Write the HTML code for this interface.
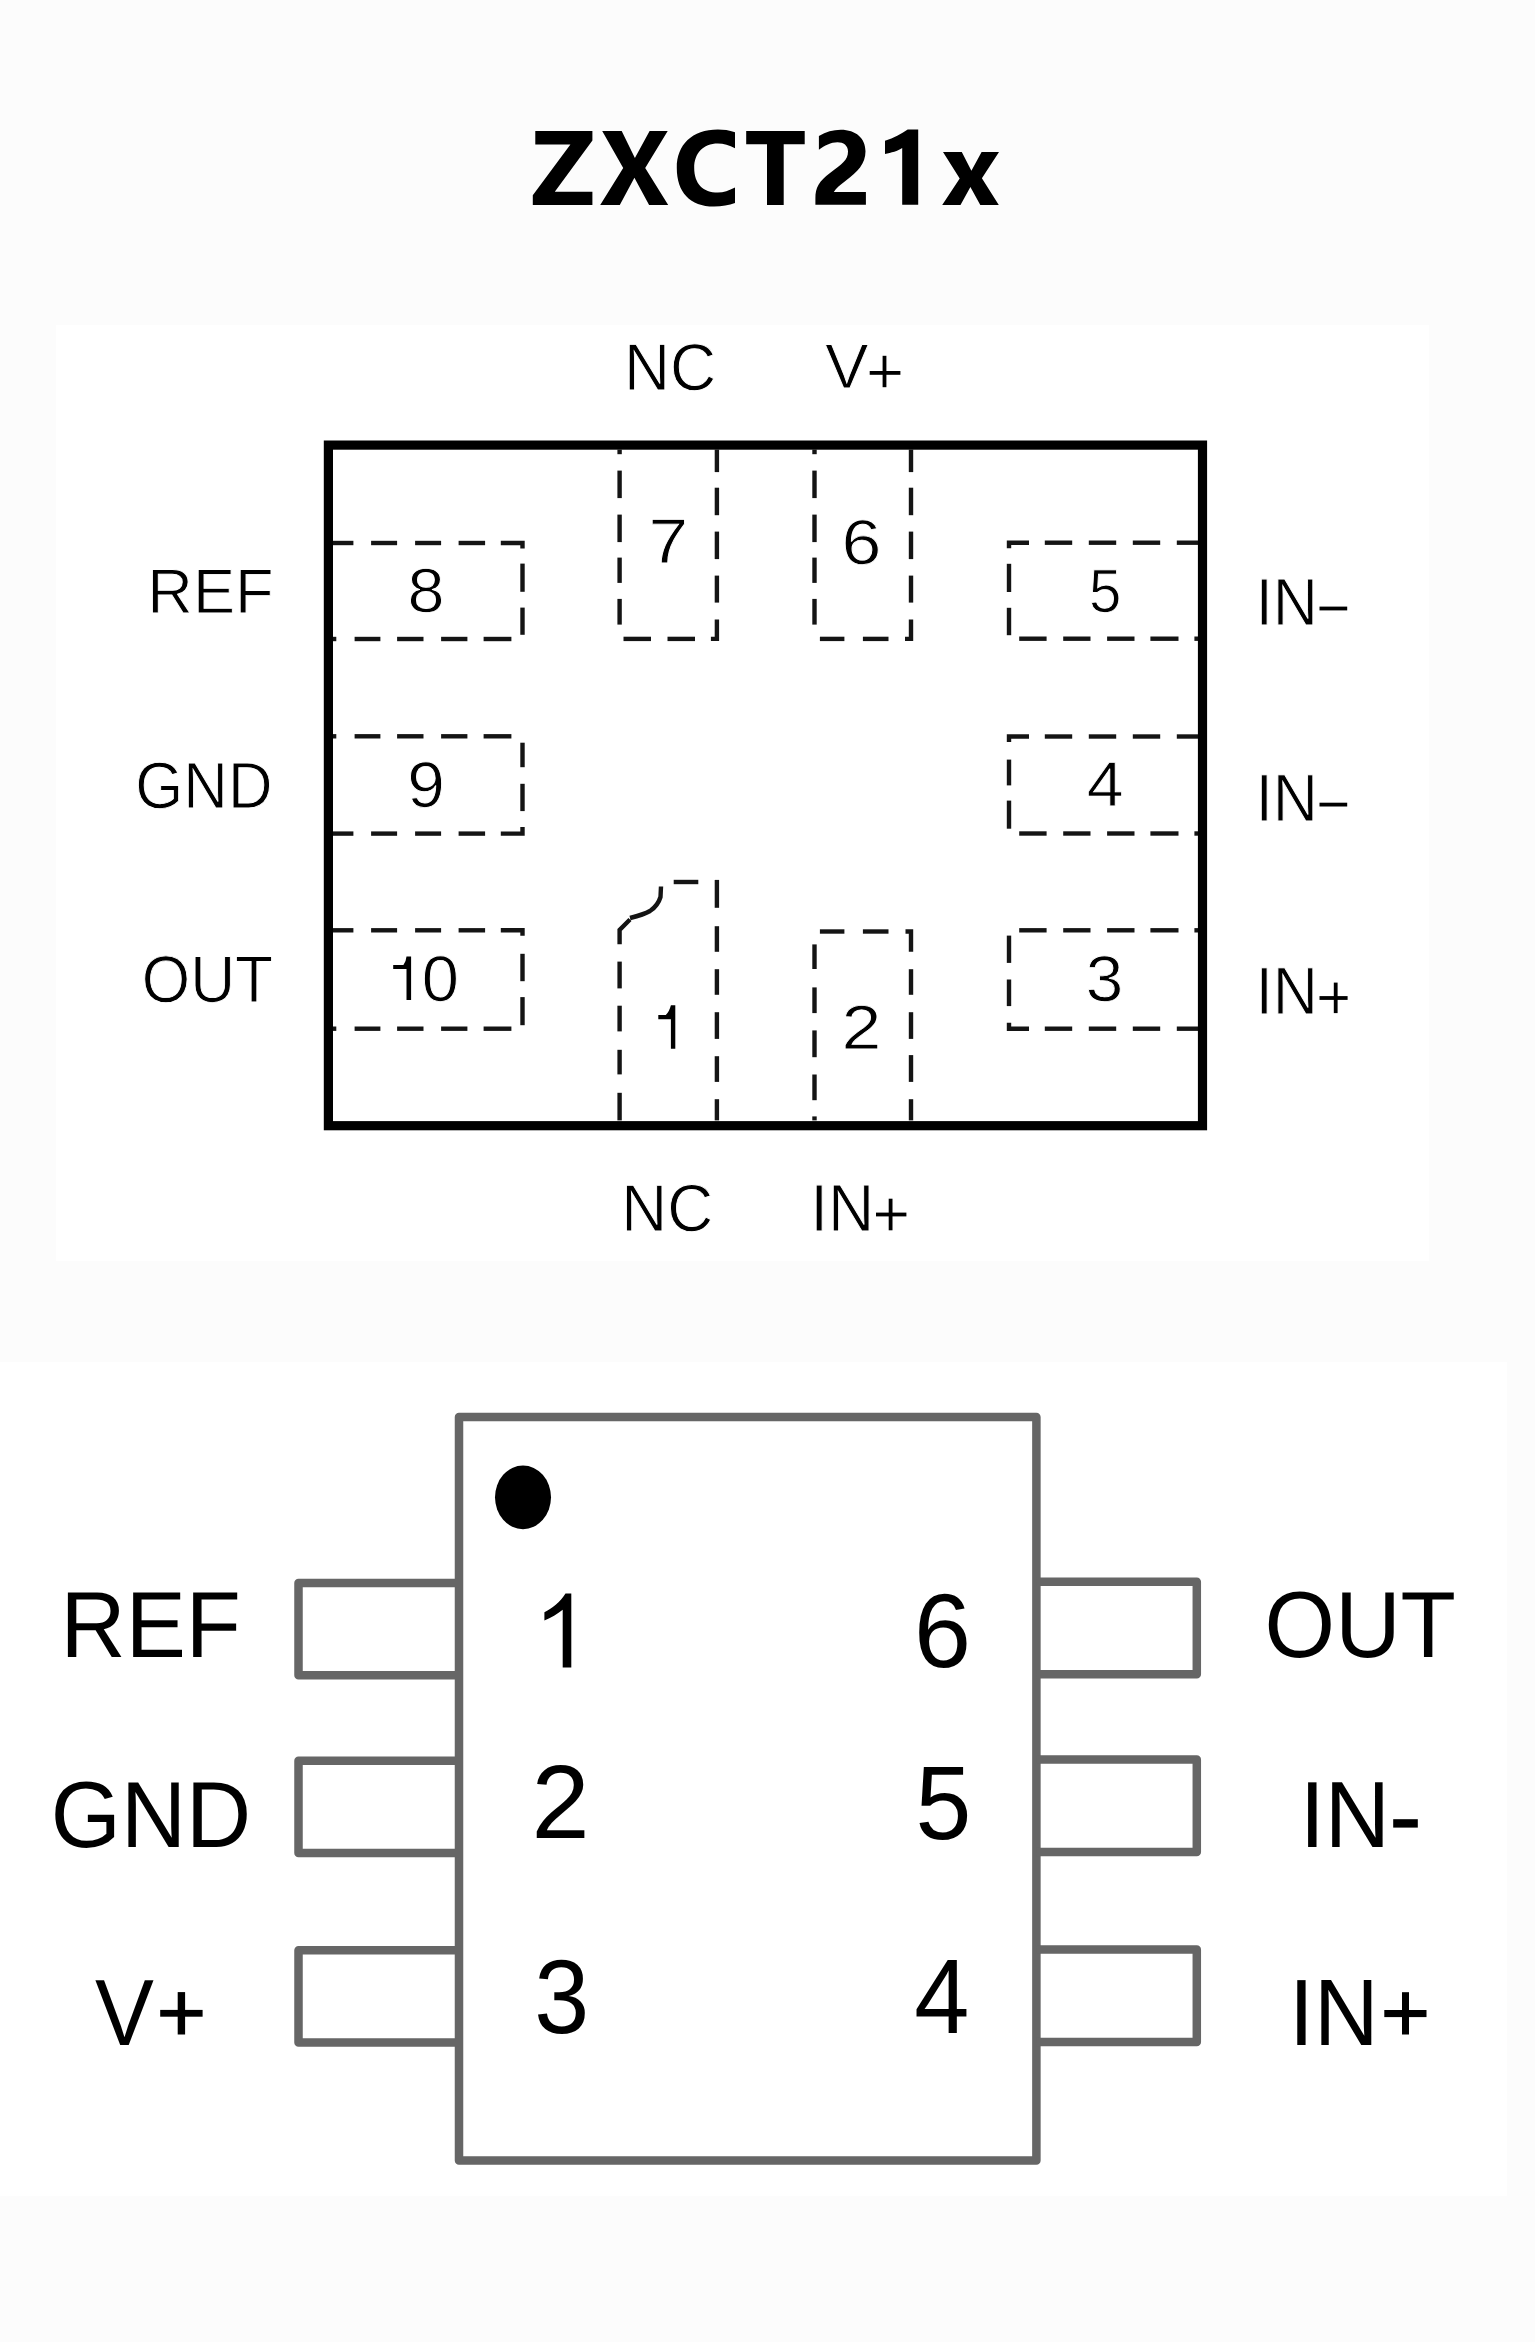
<!DOCTYPE html>
<html><head><meta charset="utf-8"><title>ZXCT21x pinout</title>
<style>
html,body{margin:0;padding:0;background:#fcfcfc;width:1535px;height:2342px;overflow:hidden}
svg{display:block}
text{font-family:"Liberation Sans",sans-serif;font-kerning:none;text-rendering:geometricPrecision}
</style></head><body>
<svg width="1535" height="2342" viewBox="0 0 1535 2342">
<rect x="0" y="0" width="1535" height="2342" fill="#fcfcfc"/>
<rect x="56" y="325" width="1373" height="936" fill="#fff"/>
<rect x="0" y="1362" width="1507" height="834" fill="#fff"/>
<g fill="#000"><path d="M535.3 130.9 H592.4 V140.5 L554.8 191.8 H592.4 V205 H532.8 V195.2 L570.4 144.4 H535.3 Z"/><path d="M602.2 130.9 H621.7 L634.9 158.1 L649.6 130.9 H667.7 L645.2 167.9 L668.2 205 H649.1 L634.4 177.7 L619.8 205 H600.2 L623.2 167.9 Z"/><path d="M735 132.2 C729 130.3 723.5 129.6 717.9 129.6 C692 129.6 676.8 145 676.8 167.9 C676.8 192 690 206.5 714 206.5 C722 206.5 729 205.5 735 203.1 V187.4 C729 190.5 723.5 192.5 717.9 192.5 C703 192.5 694.2 183.5 694.2 167.9 C694.2 153.5 703 143.6 717.9 143.6 C723.5 143.6 729.5 145.5 735 148.3 Z"/><path d="M746.2 130.9 H804.7 V144.2 H783.7 V205 H767 V144.2 H746.2 Z"/><path d="M818.9 136 C826 132 833 129.8 840.8 129.8 C856 129.8 865.5 138.5 865.5 151.3 C865.5 164 857.5 172 846 180.5 C840 185 836 188.5 833.8 191.9 H865.9 V204.8 H815.4 V198.2 C815.4 188 819 181 830 173 C842 164 848 160 848 151.5 C848 145.5 843.5 142.3 837.5 142.3 C831 142.3 824.5 145.5 818.9 149.7 Z"/><path d="M907.7 129.5 H918.2 V204.8 H902.2 V148.1 C898 151 891 153 885 154 V140.7 C894 138 901 134 907.7 129.5 Z"/><path d="M943 152 H961.8 L971.4 170.7 L981.6 152 H999 L981.9 178.3 L998.8 204.9 H980.3 L970.4 186.9 L960.5 204.9 H942.2 L959.7 178.6 Z"/></g>
<g><line x1="331.60" y1="543.00" x2="353.40" y2="543.00" stroke="#141414" stroke-width="4.40"/><line x1="371.10" y1="543.00" x2="397.10" y2="543.00" stroke="#141414" stroke-width="4.40"/><line x1="415.10" y1="543.00" x2="441.10" y2="543.00" stroke="#141414" stroke-width="4.40"/><line x1="458.60" y1="543.00" x2="485.10" y2="543.00" stroke="#141414" stroke-width="4.40"/><line x1="331.60" y1="639.00" x2="336.30" y2="639.00" stroke="#141414" stroke-width="4.40"/><line x1="354.60" y1="639.00" x2="380.40" y2="639.00" stroke="#141414" stroke-width="4.40"/><line x1="397.10" y1="639.00" x2="423.50" y2="639.00" stroke="#141414" stroke-width="4.40"/><line x1="441.10" y1="639.00" x2="467.40" y2="639.00" stroke="#141414" stroke-width="4.40"/><line x1="483.60" y1="639.00" x2="511.40" y2="639.00" stroke="#141414" stroke-width="4.40"/><line x1="522.50" y1="563.60" x2="522.50" y2="591.80" stroke="#141414" stroke-width="4.40"/><line x1="522.50" y1="607.60" x2="522.50" y2="634.80" stroke="#141414" stroke-width="4.40"/><path d="M500.80 543.00 H522.50 V548.50" fill="none" stroke="#141414" stroke-width="4.40" stroke-linejoin="miter"/><line x1="331.60" y1="736.30" x2="336.30" y2="736.30" stroke="#141414" stroke-width="4.40"/><line x1="354.60" y1="736.30" x2="380.40" y2="736.30" stroke="#141414" stroke-width="4.40"/><line x1="397.10" y1="736.30" x2="423.50" y2="736.30" stroke="#141414" stroke-width="4.40"/><line x1="441.10" y1="736.30" x2="467.40" y2="736.30" stroke="#141414" stroke-width="4.40"/><line x1="483.60" y1="736.30" x2="511.40" y2="736.30" stroke="#141414" stroke-width="4.40"/><line x1="331.60" y1="833.60" x2="353.40" y2="833.60" stroke="#141414" stroke-width="4.40"/><line x1="371.10" y1="833.60" x2="397.10" y2="833.60" stroke="#141414" stroke-width="4.40"/><line x1="415.10" y1="833.60" x2="441.10" y2="833.60" stroke="#141414" stroke-width="4.40"/><line x1="458.60" y1="833.60" x2="485.10" y2="833.60" stroke="#141414" stroke-width="4.40"/><line x1="522.50" y1="742.70" x2="522.50" y2="767.20" stroke="#141414" stroke-width="4.40"/><line x1="522.50" y1="783.80" x2="522.50" y2="811.10" stroke="#141414" stroke-width="4.40"/><path d="M500.80 833.60 H522.50 V827.10" fill="none" stroke="#141414" stroke-width="4.40" stroke-linejoin="miter"/><line x1="331.60" y1="930.30" x2="353.40" y2="930.30" stroke="#141414" stroke-width="4.40"/><line x1="371.10" y1="930.30" x2="397.10" y2="930.30" stroke="#141414" stroke-width="4.40"/><line x1="415.10" y1="930.30" x2="441.10" y2="930.30" stroke="#141414" stroke-width="4.40"/><line x1="458.60" y1="930.30" x2="485.10" y2="930.30" stroke="#141414" stroke-width="4.40"/><line x1="331.60" y1="1028.70" x2="336.30" y2="1028.70" stroke="#141414" stroke-width="4.40"/><line x1="354.60" y1="1028.70" x2="380.40" y2="1028.70" stroke="#141414" stroke-width="4.40"/><line x1="397.10" y1="1028.70" x2="423.50" y2="1028.70" stroke="#141414" stroke-width="4.40"/><line x1="441.10" y1="1028.70" x2="467.40" y2="1028.70" stroke="#141414" stroke-width="4.40"/><line x1="483.60" y1="1028.70" x2="511.40" y2="1028.70" stroke="#141414" stroke-width="4.40"/><line x1="522.50" y1="953.80" x2="522.50" y2="981.20" stroke="#141414" stroke-width="4.40"/><line x1="522.50" y1="997.10" x2="522.50" y2="1025.20" stroke="#141414" stroke-width="4.40"/><path d="M500.80 930.30 H522.50 V935.80" fill="none" stroke="#141414" stroke-width="4.40" stroke-linejoin="miter"/><line x1="1044.80" y1="542.70" x2="1072.20" y2="542.70" stroke="#141414" stroke-width="4.40"/><line x1="1088.80" y1="542.70" x2="1116.20" y2="542.70" stroke="#141414" stroke-width="4.40"/><line x1="1132.80" y1="542.70" x2="1160.20" y2="542.70" stroke="#141414" stroke-width="4.40"/><line x1="1176.80" y1="542.70" x2="1198.40" y2="542.70" stroke="#141414" stroke-width="4.40"/><line x1="1019.20" y1="638.70" x2="1046.60" y2="638.70" stroke="#141414" stroke-width="4.40"/><line x1="1063.20" y1="638.70" x2="1090.50" y2="638.70" stroke="#141414" stroke-width="4.40"/><line x1="1107.10" y1="638.70" x2="1134.50" y2="638.70" stroke="#141414" stroke-width="4.40"/><line x1="1150.40" y1="638.70" x2="1178.50" y2="638.70" stroke="#141414" stroke-width="4.40"/><line x1="1194.40" y1="638.70" x2="1198.40" y2="638.70" stroke="#141414" stroke-width="4.40"/><line x1="1009.00" y1="563.80" x2="1009.00" y2="592.00" stroke="#141414" stroke-width="4.40"/><line x1="1009.00" y1="607.80" x2="1009.00" y2="635.20" stroke="#141414" stroke-width="4.40"/><path d="M1029.00 542.70 H1009.00 V548.20" fill="none" stroke="#141414" stroke-width="4.40" stroke-linejoin="miter"/><line x1="1044.80" y1="736.50" x2="1072.20" y2="736.50" stroke="#141414" stroke-width="4.40"/><line x1="1088.80" y1="736.50" x2="1116.20" y2="736.50" stroke="#141414" stroke-width="4.40"/><line x1="1132.80" y1="736.50" x2="1160.20" y2="736.50" stroke="#141414" stroke-width="4.40"/><line x1="1176.80" y1="736.50" x2="1198.40" y2="736.50" stroke="#141414" stroke-width="4.40"/><line x1="1019.20" y1="833.50" x2="1046.60" y2="833.50" stroke="#141414" stroke-width="4.40"/><line x1="1063.20" y1="833.50" x2="1090.50" y2="833.50" stroke="#141414" stroke-width="4.40"/><line x1="1107.10" y1="833.50" x2="1134.50" y2="833.50" stroke="#141414" stroke-width="4.40"/><line x1="1150.40" y1="833.50" x2="1178.50" y2="833.50" stroke="#141414" stroke-width="4.40"/><line x1="1194.40" y1="833.50" x2="1198.40" y2="833.50" stroke="#141414" stroke-width="4.40"/><line x1="1009.00" y1="759.60" x2="1009.00" y2="785.40" stroke="#141414" stroke-width="4.40"/><line x1="1009.00" y1="800.60" x2="1009.00" y2="828.70" stroke="#141414" stroke-width="4.40"/><path d="M1029.00 736.50 H1009.00 V742.00" fill="none" stroke="#141414" stroke-width="4.40" stroke-linejoin="miter"/><line x1="1019.20" y1="930.30" x2="1046.60" y2="930.30" stroke="#141414" stroke-width="4.40"/><line x1="1063.20" y1="930.30" x2="1090.50" y2="930.30" stroke="#141414" stroke-width="4.40"/><line x1="1107.10" y1="930.30" x2="1134.50" y2="930.30" stroke="#141414" stroke-width="4.40"/><line x1="1150.40" y1="930.30" x2="1178.50" y2="930.30" stroke="#141414" stroke-width="4.40"/><line x1="1194.40" y1="930.30" x2="1198.40" y2="930.30" stroke="#141414" stroke-width="4.40"/><line x1="1044.80" y1="1028.70" x2="1072.20" y2="1028.70" stroke="#141414" stroke-width="4.40"/><line x1="1088.80" y1="1028.70" x2="1116.20" y2="1028.70" stroke="#141414" stroke-width="4.40"/><line x1="1132.80" y1="1028.70" x2="1160.20" y2="1028.70" stroke="#141414" stroke-width="4.40"/><line x1="1176.80" y1="1028.70" x2="1198.40" y2="1028.70" stroke="#141414" stroke-width="4.40"/><line x1="1009.00" y1="935.60" x2="1009.00" y2="962.90" stroke="#141414" stroke-width="4.40"/><line x1="1009.00" y1="979.50" x2="1009.00" y2="1006.10" stroke="#141414" stroke-width="4.40"/><path d="M1029.00 1028.70 H1009.00 V1022.70" fill="none" stroke="#141414" stroke-width="4.40" stroke-linejoin="miter"/><line x1="619.60" y1="449.60" x2="619.60" y2="454.20" stroke="#141414" stroke-width="4.40"/><line x1="619.60" y1="470.60" x2="619.60" y2="498.10" stroke="#141414" stroke-width="4.40"/><line x1="619.60" y1="514.60" x2="619.60" y2="542.10" stroke="#141414" stroke-width="4.40"/><line x1="619.60" y1="557.60" x2="619.60" y2="582.90" stroke="#141414" stroke-width="4.40"/><line x1="619.60" y1="598.90" x2="619.60" y2="624.60" stroke="#141414" stroke-width="4.40"/><line x1="716.90" y1="449.60" x2="716.90" y2="472.10" stroke="#141414" stroke-width="4.40"/><line x1="716.90" y1="487.70" x2="716.90" y2="515.20" stroke="#141414" stroke-width="4.40"/><line x1="716.90" y1="531.60" x2="716.90" y2="559.10" stroke="#141414" stroke-width="4.40"/><line x1="716.90" y1="575.60" x2="716.90" y2="602.60" stroke="#141414" stroke-width="4.40"/><line x1="623.50" y1="638.90" x2="651.00" y2="638.90" stroke="#141414" stroke-width="4.40"/><line x1="667.50" y1="638.90" x2="695.00" y2="638.90" stroke="#141414" stroke-width="4.40"/><path d="M710.90 638.90 H716.90 V619.50" fill="none" stroke="#141414" stroke-width="4.40" stroke-linejoin="miter"/><line x1="814.50" y1="449.60" x2="814.50" y2="454.20" stroke="#141414" stroke-width="4.40"/><line x1="814.50" y1="470.60" x2="814.50" y2="498.10" stroke="#141414" stroke-width="4.40"/><line x1="814.50" y1="514.60" x2="814.50" y2="542.10" stroke="#141414" stroke-width="4.40"/><line x1="814.50" y1="557.60" x2="814.50" y2="582.90" stroke="#141414" stroke-width="4.40"/><line x1="814.50" y1="598.90" x2="814.50" y2="624.60" stroke="#141414" stroke-width="4.40"/><line x1="911.00" y1="449.60" x2="911.00" y2="472.10" stroke="#141414" stroke-width="4.40"/><line x1="911.00" y1="487.70" x2="911.00" y2="515.20" stroke="#141414" stroke-width="4.40"/><line x1="911.00" y1="531.60" x2="911.00" y2="559.10" stroke="#141414" stroke-width="4.40"/><line x1="911.00" y1="575.60" x2="911.00" y2="602.60" stroke="#141414" stroke-width="4.40"/><line x1="819.90" y1="638.90" x2="844.40" y2="638.90" stroke="#141414" stroke-width="4.40"/><line x1="862.90" y1="638.90" x2="888.50" y2="638.90" stroke="#141414" stroke-width="4.40"/><path d="M905.00 638.90 H911.00 V619.50" fill="none" stroke="#141414" stroke-width="4.40" stroke-linejoin="miter"/><line x1="619.60" y1="961.60" x2="619.60" y2="988.40" stroke="#141414" stroke-width="4.40"/><line x1="619.60" y1="1005.70" x2="619.60" y2="1031.40" stroke="#141414" stroke-width="4.40"/><line x1="619.60" y1="1049.80" x2="619.60" y2="1074.40" stroke="#141414" stroke-width="4.40"/><line x1="619.60" y1="1092.80" x2="619.60" y2="1120.40" stroke="#141414" stroke-width="4.40"/><line x1="716.90" y1="879.90" x2="716.90" y2="907.80" stroke="#141414" stroke-width="4.40"/><line x1="716.90" y1="926.20" x2="716.90" y2="951.80" stroke="#141414" stroke-width="4.40"/><line x1="716.90" y1="969.20" x2="716.90" y2="994.80" stroke="#141414" stroke-width="4.40"/><line x1="716.90" y1="1012.20" x2="716.90" y2="1038.90" stroke="#141414" stroke-width="4.40"/><line x1="716.90" y1="1056.20" x2="716.90" y2="1081.90" stroke="#141414" stroke-width="4.40"/><line x1="716.90" y1="1099.20" x2="716.90" y2="1120.40" stroke="#141414" stroke-width="4.40"/><line x1="673.70" y1="882.00" x2="698.30" y2="882.00" stroke="#141414" stroke-width="4.40"/><path d="M619.6 944.3 V930 L627 922.5 L630 919.5" fill="none" stroke="#141414" stroke-width="4.40" stroke-linejoin="miter"/><path d="M630 918 C636 916.5 644 914.5 650 911 C656 907 659 902 660.5 897 L661 886.5" fill="none" stroke="#141414" stroke-width="4.40" stroke-linejoin="miter"/><line x1="814.50" y1="944.40" x2="814.50" y2="969.00" stroke="#141414" stroke-width="4.40"/><line x1="814.50" y1="987.40" x2="814.50" y2="1013.10" stroke="#141414" stroke-width="4.40"/><line x1="814.50" y1="1030.40" x2="814.50" y2="1057.20" stroke="#141414" stroke-width="4.40"/><line x1="814.50" y1="1074.50" x2="814.50" y2="1100.20" stroke="#141414" stroke-width="4.40"/><line x1="814.50" y1="1116.40" x2="814.50" y2="1120.40" stroke="#141414" stroke-width="4.40"/><line x1="911.00" y1="969.20" x2="911.00" y2="994.80" stroke="#141414" stroke-width="4.40"/><line x1="911.00" y1="1012.20" x2="911.00" y2="1038.90" stroke="#141414" stroke-width="4.40"/><line x1="911.00" y1="1055.10" x2="911.00" y2="1081.90" stroke="#141414" stroke-width="4.40"/><line x1="911.00" y1="1099.20" x2="911.00" y2="1120.40" stroke="#141414" stroke-width="4.40"/><line x1="819.90" y1="931.50" x2="844.40" y2="931.50" stroke="#141414" stroke-width="4.40"/><line x1="862.90" y1="931.50" x2="888.50" y2="931.50" stroke="#141414" stroke-width="4.40"/><path d="M905.50 931.50 H911.00 V951.80" fill="none" stroke="#141414" stroke-width="4.40" stroke-linejoin="miter"/></g>
<rect x="328.4" y="445.1" width="874.1" height="680.6" fill="none" stroke="#000" stroke-width="9.2"/>
<g font-family="Liberation Sans" font-size="100"><text transform="translate(624.02 390.45) scale(0.6374 0.6628)" font-weight="normal" fill="#000" stroke="#fff" stroke-width="1.385">NC</text><text transform="translate(824.96 387.65) scale(0.6533 0.6323)" font-weight="normal" fill="#000" stroke="#fff" stroke-width="1.400">V</text><text transform="translate(147.37 612.95) scale(0.6310 0.6323)" font-weight="normal" fill="#000" stroke="#fff" stroke-width="1.425">REF</text><text transform="translate(135.35 808.25) scale(0.6172 0.6555)" font-weight="normal" fill="#000" stroke="#fff" stroke-width="1.415">GND</text><text transform="translate(141.80 1001.65) scale(0.6219 0.6613)" font-weight="normal" fill="#000" stroke="#fff" stroke-width="1.403">OUT</text><text transform="translate(1255.38 624.75) scale(0.6258 0.6701)" font-weight="normal" fill="#000" stroke="#fff" stroke-width="1.390">IN</text><text transform="translate(1255.38 820.55) scale(0.6258 0.6715)" font-weight="normal" fill="#000" stroke="#fff" stroke-width="1.388">IN</text><text transform="translate(1255.38 1013.55) scale(0.6258 0.6715)" font-weight="normal" fill="#000" stroke="#fff" stroke-width="1.388">IN</text><text transform="translate(621.23 1230.75) scale(0.6358 0.6657)" font-weight="normal" fill="#000" stroke="#fff" stroke-width="1.383">NC</text><text transform="translate(810.14 1230.75) scale(0.6403 0.6701)" font-weight="normal" fill="#000" stroke="#fff" stroke-width="1.374">IN</text><text transform="translate(407.56 612.44) scale(0.6649 0.6243)" font-weight="normal" fill="#000" stroke="#fff" stroke-width="1.397">8</text><text transform="translate(407.18 807.32) scale(0.6755 0.6483)" font-weight="normal" fill="#000" stroke="#fff" stroke-width="1.360">9</text><text transform="translate(421.84 1000.62) scale(0.6694 0.6483)" font-weight="normal" fill="#000" stroke="#fff" stroke-width="1.366">0</text><text transform="translate(648.60 562.65) scale(0.7127 0.6337)" font-weight="normal" fill="#000" stroke="#fff" stroke-width="1.339">7</text><text transform="translate(841.51 563.93) scale(0.7173 0.6342)" font-weight="normal" fill="#000" stroke="#fff" stroke-width="1.334">6</text><text transform="translate(1088.92 611.55) scale(0.5821 0.6148)" font-weight="normal" fill="#000" stroke="#fff" stroke-width="1.504">5</text><text transform="translate(1086.83 805.75) scale(0.6628 0.6352)" font-weight="normal" fill="#000" stroke="#fff" stroke-width="1.387">4</text><text transform="translate(1085.78 1000.82) scale(0.6749 0.6483)" font-weight="normal" fill="#000" stroke="#fff" stroke-width="1.361">3</text><text transform="translate(841.54 1048.75) scale(0.7178 0.6259)" font-weight="normal" fill="#000" stroke="#fff" stroke-width="1.343">2</text></g>
<g><rect x="869.70" y="371.00" width="30.70" height="3.80" fill="#000"/><rect x="882.60" y="355.80" width="3.80" height="31.40" fill="#000"/><rect x="1319.50" y="606.60" width="27.70" height="3.80" fill="#000"/><rect x="1319.50" y="802.70" width="27.70" height="3.80" fill="#000"/><rect x="1319.50" y="996.10" width="28.10" height="3.80" fill="#000"/><rect x="1333.80" y="982.60" width="3.80" height="30.50" fill="#000"/><rect x="876.00" y="1212.60" width="30.40" height="3.80" fill="#000"/><rect x="888.70" y="1198.70" width="3.80" height="31.60" fill="#000"/><path d="M406.5 956.5 H411.1 V1000.1 H406.5 V969.0 H393.2 V965.0 H403.4 Q406 962 406.5 956.5 Z" fill="#000"/><path d="M670.9 1005.3 H675.3 V1048.8 H670.9 V1019.2 H658.3 V1014.9 H665.8 Q669.2 1012 670.9 1005.3 Z" fill="#000"/></g>
<g><path d="M459 1417 H1036.4 V2160.5 H459 Z" fill="none" stroke="#666666" stroke-width="8.50" stroke-linejoin="round"/><path d="M459 1583.05 H298.5 V1675.35 H459" fill="none" stroke="#666666" stroke-width="8.50" stroke-linejoin="round"/><path d="M459 1760.65 H298.5 V1852.95 H459" fill="none" stroke="#666666" stroke-width="8.50" stroke-linejoin="round"/><path d="M459 1950.25 H298.5 V2042.55 H459" fill="none" stroke="#666666" stroke-width="8.50" stroke-linejoin="round"/><path d="M1036.4 1581.75 H1196.8 V1674.25 H1036.4" fill="none" stroke="#666666" stroke-width="8.50" stroke-linejoin="round"/><path d="M1036.4 1759.55 H1196.8 V1852.05 H1036.4" fill="none" stroke="#666666" stroke-width="8.50" stroke-linejoin="round"/><path d="M1036.4 1949.55 H1196.8 V2042.05 H1036.4" fill="none" stroke="#666666" stroke-width="8.50" stroke-linejoin="round"/><ellipse cx="523" cy="1497.35" rx="28" ry="31.85" fill="#000"/></g>
<g font-family="Liberation Sans" font-size="100"><text transform="translate(60.61 1657.10) scale(0.9010 0.9390)" font-weight="normal" fill="#000">REF</text><text transform="translate(50.77 1846.70) scale(0.9016 0.9390)" font-weight="normal" fill="#000">GND</text><text transform="translate(95.01 2045.20) scale(0.8827 0.9419)" font-weight="normal" fill="#000">V</text><text transform="translate(1264.61 1657.10) scale(0.9066 0.9390)" font-weight="normal" fill="#000">OUT</text><text transform="translate(1299.77 1846.70) scale(0.9030 0.9404)" font-weight="normal" fill="#000">IN</text><text transform="translate(1289.05 2045.40) scale(0.8945 0.9433)" font-weight="normal" fill="#000">IN</text><text transform="translate(531.45 1838.30) scale(1.0449 1.0441)" font-weight="normal" fill="#000">2</text><text transform="translate(534.24 2032.77) scale(0.9871 1.0508)" font-weight="normal" fill="#000">3</text><text transform="translate(913.99 1667.38) scale(1.0251 1.0494)" font-weight="normal" fill="#000">6</text><text transform="translate(915.58 1838.58) scale(1.0040 1.0476)" font-weight="normal" fill="#000">5</text><text transform="translate(914.23 2032.50) scale(0.9903 1.0625)" font-weight="normal" fill="#000">4</text></g>
<g><rect x="160.20" y="2009.90" width="42.40" height="6.80" fill="#000"/><rect x="177.70" y="1992.10" width="7.40" height="42.40" fill="#000"/><rect x="1393.20" y="1819.20" width="24.60" height="8.40" fill="#000"/><rect x="1384.30" y="2010.00" width="42.20" height="7.10" fill="#000"/><rect x="1402.00" y="1992.20" width="7.00" height="42.30" fill="#000"/><path d="M565.5 1593.6 H571.3 V1667.5 H562.7 V1609.8 C557.5 1614 551 1618 544.4 1620.5 V1612.3 C551.5 1609 560.5 1602 565.5 1593.6 Z" fill="#000"/></g>
</svg>
</body></html>
